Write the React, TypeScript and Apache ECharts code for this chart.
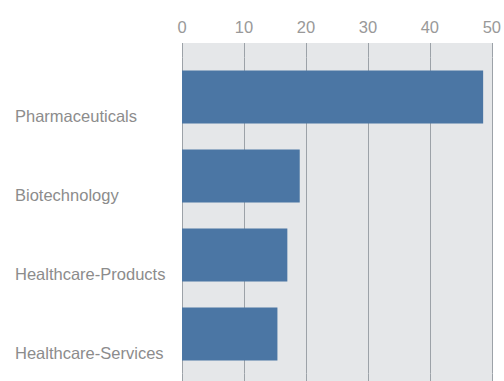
import React, { useEffect, useRef } from "react";
import * as echarts from "echarts";

const categories = ["Pharmaceuticals", "Biotechnology", "Healthcare-Products", "Healthcare-Services"];
const values = [48.6, 19.0, 17.0, 15.4];
const xTicks = { min: 0, max: 50, interval: 10 };

const FONT = "'Liberation Sans', Arial, sans-serif";
const LINE = "#9ca2a8";

export default function App() {
  const ref = useRef<HTMLDivElement>(null);
  useEffect(() => {
    if (!ref.current) return;
    const chart = echarts.init(ref.current, undefined, { renderer: "svg" });
    chart.setOption({
      animation: false,
      grid: { left: 182, right: 12, top: 57.5, bottom: 7.5, containLabel: false },
      graphic: [
        {
          type: "rect",
          z: -10,
          silent: true,
          shape: { x: 182, y: 43, width: 310, height: 338 },
          style: { fill: "#e5e7e9" },
        },
      ],
      xAxis: [
        {
          type: "value",
          position: "top",
          min: xTicks.min,
          max: xTicks.max,
          interval: xTicks.interval,
          axisLine: { show: false },
          axisTick: { show: true, length: 14.5, lineStyle: { color: LINE, width: 1 } },
          axisLabel: { margin: 22, color: "#999999", fontSize: 16.5, fontFamily: FONT },
          splitLine: { show: true, lineStyle: { color: LINE, width: 1 } },
        },
        {
          type: "value",
          position: "bottom",
          min: xTicks.min,
          max: xTicks.max,
          interval: xTicks.interval,
          axisLine: { show: false },
          axisTick: { show: true, length: 8, lineStyle: { color: LINE, width: 1 } },
          axisLabel: { show: false },
          splitLine: { show: false },
        },
      ],
      yAxis: {
        type: "category",
        inverse: true,
        data: categories,
        axisLine: { show: false },
        axisTick: { show: false },
        axisLabel: {
          align: "left",
          verticalAlign: "top",
          lineHeight: 38,
          margin: 167,
          color: "#8c8c8c",
          fontSize: 16.5,
          fontFamily: FONT,
        },
        splitLine: { show: false },
      },
      series: [
        {
          type: "bar",
          xAxisIndex: 0,
          data: values,
          barCategoryGap: "33%",
          itemStyle: { color: "#4b76a4" },
        },
      ],
    });
    return () => chart.dispose();
  }, []);
  return (
    <div
      ref={ref}
      style={{ position: "fixed", left: 0, top: 0, width: 504, height: 381, background: "#fff" }}
    />
  );
}
